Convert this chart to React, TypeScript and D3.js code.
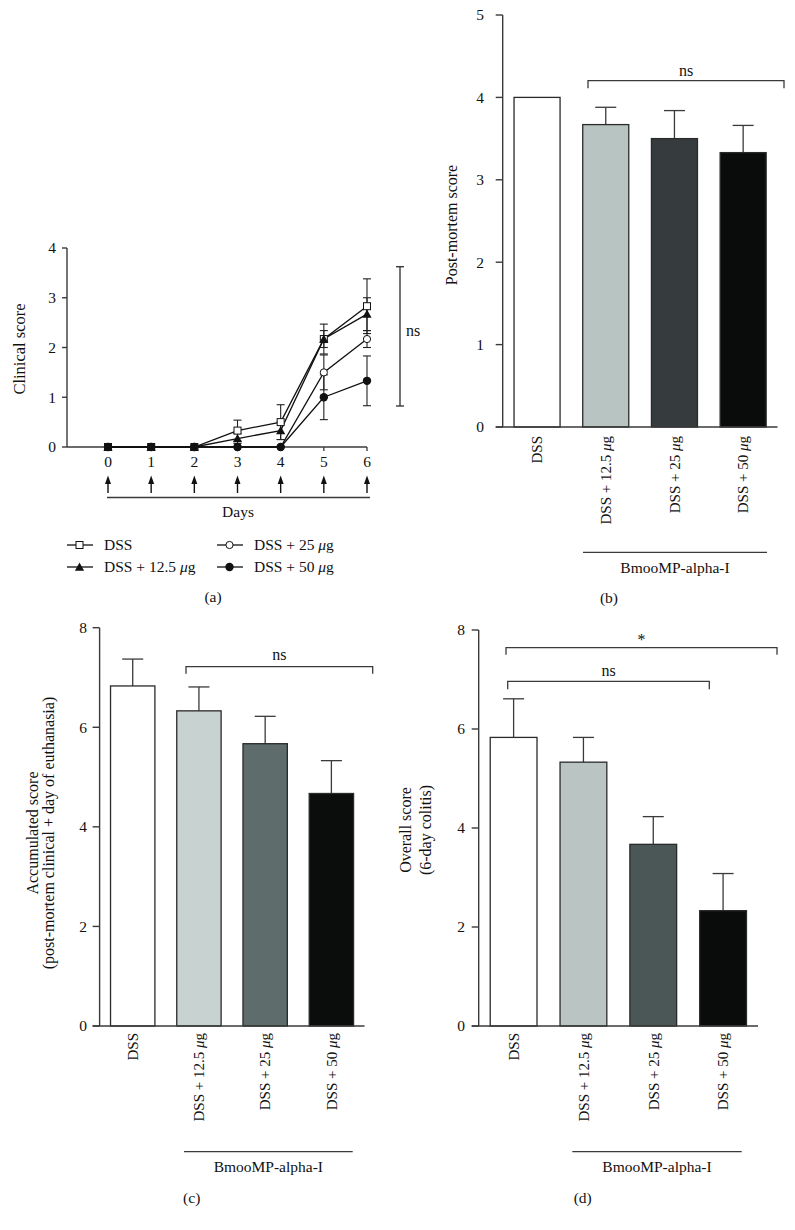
import React from "react";
import * as d3 from "d3";

// ---------- Data ----------
const days = [0, 1, 2, 3, 4, 5, 6];
const clinicalSeriesNames = ["DSS", "DSS + 12.5 μg", "DSS + 25 μg", "DSS + 50 μg"];
const clinicalDSS = [0, 0, 0, 0.33, 0.5, 2.17, 2.83];
const clinicalDSSErr = [0, 0, 0, 0.21, 0.35, 0.3, 0.55];
const clinical125 = [0, 0, 0, 0.17, 0.33, 2.17, 2.67];
const clinical125Err = [0, 0, 0, 0.1, 0.18, 0.17, 0.33];
const clinical25 = [0, 0, 0, 0, 0, 1.5, 2.17];
const clinical25Err = [0, 0, 0, 0, 0, 0.35, 0.17];
const clinical50 = [0, 0, 0, 0, 0, 1.0, 1.33];
const clinical50Err = [0, 0, 0, 0, 0, 0.45, 0.5];
const clinicalTicks = [0, 1, 2, 3, 4];

const groups = ["DSS", "DSS + 12.5 μg", "DSS + 25 μg", "DSS + 50 μg"];
const postMortem = [4.0, 3.67, 3.5, 3.33];
const postMortemErr = [0, 0.21, 0.34, 0.33];
const postMortemTicks = [0, 1, 2, 3, 4, 5];
const accumulated = [6.83, 6.33, 5.67, 4.67];
const accumulatedErr = [0.54, 0.48, 0.55, 0.66];
const accumulatedTicks = [0, 2, 4, 6, 8];
const overall = [5.83, 5.33, 3.67, 2.33];
const overallErr = [0.78, 0.5, 0.56, 0.75];
const overallTicks = [0, 2, 4, 6, 8];

const groupLabel = "BmooMP-alpha-I";

const FONT = "'Liberation Serif', 'Times New Roman', serif";
const AX = "#3a3a3a";

function label(text: string) {
  const i = text.indexOf("μ");
  if (i < 0) return text;
  return (
    <>
      {text.slice(0, i)}
      <tspan fontStyle="italic">μ</tspan>
      {text.slice(i + 1)}
    </>
  );
}

type Bracket = { x1: number; x2: number; y: number; drop: number; text: string; textY: number };

function BarPanel(props: {
  values: number[];
  errors: number[];
  fills: string[];
  x0: number;
  x1: number;
  yMax: number;
  yTop: number;
  y0: number;
  ticks: number[];
  tickLabelX: number;
  yLabelLines: string[];
  yLabelXs: number[];
  yLabelY: number;
  catY: number;
  groupLineY: number;
  groupLineX: [number, number];
  panel: string;
  panelX: number;
  panelY: number;
  brackets: Bracket[];
}) {
  const p = props;
  const x = d3.scaleBand<string>().domain(groups).range([p.x0, p.x1]).paddingInner(0.33).paddingOuter(0.165);
  const y = d3.scaleLinear().domain([0, p.yMax]).range([p.y0, p.yTop]);
  const bw = x.bandwidth();
  return (
    <g fontFamily={FONT} fill="#111">
      {/* y axis */}
      <line x1={p.x0} x2={p.x0} y1={y(p.yMax)} y2={y(0)} stroke={AX} strokeWidth={1.4} />
      {p.ticks.map((t) => (
        <g key={t}>
          <line x1={p.x0 - 7} x2={p.x0} y1={y(t)} y2={y(t)} stroke={AX} strokeWidth={1.4} />
          <text x={p.tickLabelX} y={y(t)} dy="0.35em" textAnchor="end" fontSize={15.5}>
            {t}
          </text>
        </g>
      ))}
      {/* bars */}
      {groups.map((g, i) => {
        const cx = (x(g) as number) + bw / 2;
        const top = y(p.values[i]);
        const et = y(p.values[i] + p.errors[i]);
        return (
          <g key={g}>
            {p.errors[i] > 0 && (
              <>
                <line x1={cx} x2={cx} y1={top} y2={et} stroke={AX} strokeWidth={1.3} />
                <line x1={cx - 10.5} x2={cx + 10.5} y1={et} y2={et} stroke={AX} strokeWidth={1.3} />
              </>
            )}
            <rect x={x(g)} y={top} width={bw} height={y(0) - top} fill={p.fills[i]} stroke="#2a2a2a" strokeWidth={1.3} />
            <text
              transform={`translate(${cx},${p.catY}) rotate(-90)`}
              dy="0.35em"
              textAnchor="end"
              fontSize={15}
            >
              {label(g)}
            </text>
          </g>
        );
      })}
      {/* x axis */}
      <line x1={p.x0 - 7} x2={p.x1} y1={y(0)} y2={y(0)} stroke={AX} strokeWidth={1.4} />
      {/* y label */}
      {p.yLabelLines.map((l, i) => (
        <text
          key={l}
          transform={`translate(${p.yLabelXs[i]},${p.yLabelY}) rotate(-90)`}
          dy="0.35em"
          textAnchor="middle"
          fontSize={16}
        >
          {l}
        </text>
      ))}
      {/* brackets */}
      {p.brackets.map((b, i) => (
        <g key={i}>
          <path
            d={`M${b.x1},${b.y + b.drop}V${b.y}H${b.x2}V${b.y + b.drop}`}
            fill="none"
            stroke={AX}
            strokeWidth={1.3}
          />
          <text x={(b.x1 + b.x2) / 2} y={b.textY} dy="0.35em" textAnchor="middle" fontSize={16}>
            {b.text}
          </text>
        </g>
      ))}
      {/* group line */}
      <line x1={p.groupLineX[0]} x2={p.groupLineX[1]} y1={p.groupLineY} y2={p.groupLineY} stroke={AX} strokeWidth={1.3} />
      <text x={(p.groupLineX[0] + p.groupLineX[1]) / 2} y={p.groupLineY + 15} dy="0.35em" textAnchor="middle" fontSize={15.5}>
        {groupLabel}
      </text>
      <text x={p.panelX} y={p.panelY} dy="0.35em" textAnchor="middle" fontSize={15.5}>
        {p.panel}
      </text>
    </g>
  );
}

function Marker({ kind, cx, cy }: { kind: number; cx: number; cy: number }) {
  if (kind === 0) return <rect x={cx - 3.5} y={cy - 3.5} width={7} height={7} fill="#fff" stroke="#111" strokeWidth={1} />;
  if (kind === 1) {
    const s = 4.6;
    return <path d={`M${cx},${cy - s}L${cx + s},${cy + s * 0.8}L${cx - s},${cy + s * 0.8}Z`} fill="#111" />;
  }
  if (kind === 2) return <circle cx={cx} cy={cy} r={3.6} fill="#fff" stroke="#111" strokeWidth={1} />;
  return <circle cx={cx} cy={cy} r={4.2} fill="#111" />;
}

function LinePanel() {
  const x = d3.scaleLinear().domain([0, 6]).range([108, 367]);
  const y = d3.scaleLinear().domain([0, 4]).range([447, 248]);
  const series = [
    { v: clinicalDSS, e: clinicalDSSErr },
    { v: clinical125, e: clinical125Err },
    { v: clinical25, e: clinical25Err },
    { v: clinical50, e: clinical50Err },
  ];
  const line = d3
    .line<number>()
    .x((_, i) => x(days[i]))
    .y((d) => y(d));
  const axisX = 67;
  return (
    <g fontFamily={FONT} fill="#111">
      <line x1={axisX} x2={axisX} y1={y(4)} y2={y(0)} stroke={AX} strokeWidth={1.4} />
      {clinicalTicks.map((t) => (
        <g key={t}>
          <line x1={axisX - 5} x2={axisX} y1={y(t)} y2={y(t)} stroke={AX} strokeWidth={1.4} />
          <text x={56} y={y(t)} dy="0.35em" textAnchor="end" fontSize={15.5}>
            {t}
          </text>
        </g>
      ))}
      <line x1={axisX} x2={x(6)} y1={y(0)} y2={y(0)} stroke={AX} strokeWidth={1.4} />
      {days.map((d) => (
        <g key={d}>
          <line x1={x(d)} x2={x(d)} y1={y(0)} y2={y(0) + 4} stroke={AX} strokeWidth={1.3} />
          <text x={x(d)} y={462} dy="0.35em" textAnchor="middle" fontSize={15.5}>
            {d}
          </text>
          <line x1={x(d)} x2={x(d)} y1={482} y2={493} stroke="#111" strokeWidth={1.4} />
          <path d={`M${x(d)},475.5L${x(d) + 3},484L${x(d) - 3},484Z`} fill="#111" />
        </g>
      ))}
      <line x1={107} x2={370} y1={497.5} y2={497.5} stroke={AX} strokeWidth={1.5} />
      <text x={238} y={512} dy="0.35em" textAnchor="middle" fontSize={15.5}>
        Days
      </text>
      <text transform={`translate(19,349) rotate(-90)`} dy="0.35em" textAnchor="middle" fontSize={16.5}>
        Clinical score
      </text>
      {/* error bars */}
      {series.map((s, si) =>
        s.v.map((v, i) =>
          s.e[i] > 0 ? (
            <g key={`${si}-${i}`} stroke="#222" strokeWidth={1.1}>
              <line x1={x(days[i])} x2={x(days[i])} y1={y(v - s.e[i])} y2={y(v + s.e[i])} />
              <line x1={x(days[i]) - 4} x2={x(days[i]) + 4} y1={y(v + s.e[i])} y2={y(v + s.e[i])} />
              <line x1={x(days[i]) - 4} x2={x(days[i]) + 4} y1={y(v - s.e[i])} y2={y(v - s.e[i])} />
            </g>
          ) : null
        )
      )}
      {series.map((s, si) => (
        <path key={si} d={line(s.v) as string} fill="none" stroke="#111" strokeWidth={1.3} />
      ))}
      {series.map((s, si) => s.v.map((v, i) => <Marker key={`${si}-${i}`} kind={si} cx={x(days[i])} cy={y(v)} />))}
      {/* ns bracket */}
      <g stroke={AX} strokeWidth={1.4}>
        <line x1={400} x2={400} y1={266.7} y2={406} />
        <line x1={396} x2={404} y1={266.7} y2={266.7} />
        <line x1={396} x2={404} y1={406} y2={406} />
      </g>
      <text x={406} y={330} dy="0.35em" fontSize={16}>
        ns
      </text>
      {/* legend */}
      {clinicalSeriesNames.map((n, i) => {
        const col = i === 0 || i === 1 ? 0 : 1;
        const row = i === 0 || i === 2 ? 0 : 1;
        const lx = col === 0 ? 67 : 217;
        const ly = row === 0 ? 545 : 567;
        return (
          <g key={n}>
            <line x1={lx} x2={lx + 26} y1={ly} y2={ly} stroke="#111" strokeWidth={1.3} />
            <Marker kind={i} cx={lx + 12.5} cy={ly} />
            <text x={lx + 37} y={ly} dy="0.35em" fontSize={15.5}>
              {label(n)}
            </text>
          </g>
        );
      })}
      <text x={213} y={597} dy="0.35em" textAnchor="middle" fontSize={15.5}>
        (a)
      </text>
    </g>
  );
}

export default function App() {
  return (
    <svg
      width={795}
      height={1230}
      viewBox="0 0 795 1230"
      style={{ position: "absolute", left: 0, top: 0, background: "#fff", display: "block" }}
    >
      <rect width={795} height={1230} fill="#fff" />
      <LinePanel />
      <BarPanel
        values={postMortem}
        errors={postMortemErr}
        fills={["#ffffff", "#b8c4c2", "#363c3e", "#0a0c0b"]}
        x0={502.7}
        x1={777.5}
        yMax={5}
        yTop={15}
        y0={427}
        ticks={postMortemTicks}
        tickLabelX={484}
        yLabelLines={["Post-mortem score"]}
        yLabelXs={[451]}
        yLabelY={225}
        catY={436}
        groupLineY={552.3}
        groupLineX={[583, 767]}
        panel="(b)"
        panelX={609}
        panelY={598}
        brackets={[{ x1: 588, x2: 784, y: 80.7, drop: 7.5, text: "ns", textY: 70 }]}
      />
      <BarPanel
        values={accumulated}
        errors={accumulatedErr}
        fills={["#ffffff", "#c8d2d0", "#5e6c6b", "#0b0d0c"]}
        x0={99.6}
        x1={364.5}
        yMax={8}
        yTop={627.7}
        y0={1026}
        ticks={accumulatedTicks}
        tickLabelX={87}
        yLabelLines={["Accumulated score", "(post-mortem clinical + day of euthanasia)"]}
        yLabelXs={[32, 48]}
        yLabelY={833}
        catY={1033}
        groupLineY={1151.7}
        groupLineX={[184, 352.7]}
        panel="(c)"
        panelX={191.7}
        panelY={1197.7}
        brackets={[{ x1: 186, x2: 372.7, y: 666.7, drop: 7, text: "ns", textY: 654 }]}
      />
      <BarPanel
        values={overall}
        errors={overallErr}
        fills={["#ffffff", "#b9c4c3", "#4b5657", "#0a0c0b"]}
        x0={478.7}
        x1={758}
        yMax={8}
        yTop={630}
        y0={1026}
        ticks={overallTicks}
        tickLabelX={465}
        yLabelLines={["Overall score", "(6-day colitis)"]}
        yLabelXs={[405, 425]}
        yLabelY={830}
        catY={1033}
        groupLineY={1151.7}
        groupLineX={[572.3, 741.7]}
        panel="(d)"
        panelX={582.7}
        panelY={1197.7}
        brackets={[
          { x1: 506, x2: 777, y: 647.7, drop: 7, text: "*", textY: 639 },
          { x1: 507.7, x2: 709.3, y: 681.3, drop: 8, text: "ns", textY: 670.7 },
        ]}
      />
    </svg>
  );
}
